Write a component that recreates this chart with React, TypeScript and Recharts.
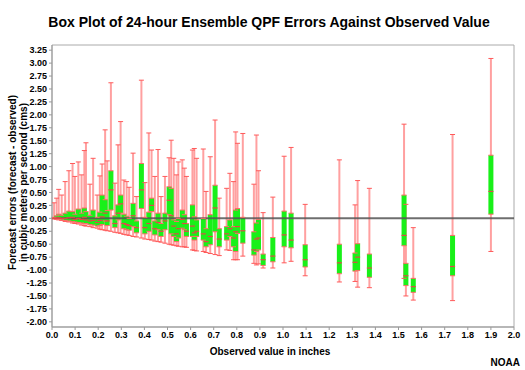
import React from 'react';
import { ComposedChart, Scatter, XAxis, YAxis, ErrorBar, ReferenceLine, ReferenceArea } from 'recharts';

// Observed value (inches) for each box
const observed = [
  0.009, 0.020, 0.029, 0.042, 0.057, 0.073, 0.089, 0.099, 0.114, 0.128,
  0.140, 0.147, 0.164, 0.178, 0.196, 0.207, 0.217, 0.230, 0.239, 0.255,
  0.272, 0.286, 0.297, 0.311, 0.323, 0.334, 0.351, 0.366, 0.387, 0.402,
  0.419, 0.431, 0.445, 0.459, 0.472, 0.489, 0.507, 0.516, 0.527, 0.539,
  0.547, 0.564, 0.573, 0.582, 0.608, 0.616, 0.626, 0.655, 0.667, 0.685,
  0.706, 0.724, 0.756, 0.770, 0.786, 0.795, 0.803, 0.826, 0.874, 0.885,
  0.894, 0.914, 0.956, 1.005, 1.035, 1.096, 1.244, 1.312, 1.323, 1.374,
  1.524, 1.532, 1.564, 1.734, 1.900,
];
const minimum = [
  -0.01, -0.02, -0.03, -0.04, -0.06, -0.07, -0.09, -0.10, -0.11, -0.13,
  -0.14, -0.15, -0.16, -0.18, -0.19, -0.21, -0.22, -0.23, -0.24, -0.25,
  -0.27, -0.28, -0.29, -0.31, -0.32, -0.33, -0.35, -0.36, -0.38, -0.40,
  -0.41, -0.42, -0.44, -0.45, -0.46, -0.48, -0.50, -0.51, -0.52, -0.53,
  -0.54, -0.55, -0.55, -0.56, -0.61, -0.62, -0.63, -0.64, -0.66, -0.68,
  -0.70, -0.72, -0.61, -0.62, -0.80, -0.80, -0.80, -0.73, -0.87, -0.90,
  -0.88, -0.96, -0.96, -0.86, -0.83, -1.11, -1.23, -1.22, -1.33, -1.34,
  -1.16, -1.50, -1.58, -1.59, -0.64,
];
const quartile1 = [
  -0.005, -0.01, -0.02, -0.03, -0.04, -0.05, -0.06, -0.07, -0.08, -0.09,
  -0.10, -0.10, -0.12, -0.13, -0.15, -0.14, -0.12, -0.05, -0.14, 0.16,
  -0.18, -0.03, 0.10, -0.20, -0.22, -0.23, -0.16, -0.28, 0.19, -0.30,
  -0.25, 0.13, -0.32, -0.22, -0.35, -0.22, 0.07, -0.30, -0.35, -0.45,
  -0.38, -0.19, -0.22, -0.35, -0.35, -0.42, -0.35, -0.42, -0.55, -0.51,
  -0.26, -0.55, -0.42, -0.35, -0.55, -0.64, -0.29, -0.48, -0.71, -0.64,
  -0.61, -0.91, -0.84, -0.55, -0.57, -0.94, -1.07, -1.02, -1.01, -1.14,
  -0.53, -1.30, -1.43, -1.11, 0.08,
];
const median = [
  0.0, 0.0, 0.01, 0.0, 0.0, 0.01, 0.02, -0.02, 0.0, -0.02,
  0.02, -0.03, -0.05, -0.04, -0.08, -0.04, 0.03, 0.10, -0.05, 0.55,
  -0.10, 0.10, 0.28, -0.10, -0.12, -0.14, 0.05, -0.18, 0.55, -0.18,
  -0.10, 0.25, -0.20, -0.08, -0.25, -0.05, 0.35, 0.05, -0.15, -0.30,
  -0.20, -0.02, -0.10, -0.25, -0.15, -0.28, -0.25, -0.30, -0.45, -0.35,
  0.20, -0.40, -0.30, -0.20, -0.38, -0.26, -0.16, -0.24, -0.61, -0.40,
  -0.38, -0.80, -0.73, -0.32, -0.42, -0.80, -0.86, -0.85, -0.75, -0.96,
  -0.33, -1.11, -1.32, -0.93, 0.52,
];
const quartile3 = [
  0.02, 0.05, 0.08, 0.06, 0.10, 0.14, 0.13, 0.08, 0.18, 0.10,
  0.20, 0.13, 0.06, 0.16, 0.02, 0.12, 0.45, 0.36, 0.15, 0.92,
  0.05, 0.26, 0.45, 0.08, 0.04, 0.00, 0.29, -0.05, 1.06, 0.02,
  0.12, 0.39, -0.05, 0.10, -0.10, 0.10, 0.61, 0.58, -0.03, -0.06,
  0.00, 0.16, 0.07, -0.10, 0.26, 0.03, -0.03, 0.00, -0.20, 0.07,
  0.64, -0.20, -0.16, -0.03, -0.16, 0.16, 0.19, 0.02, -0.26, -0.09,
  -0.02, -0.69, -0.37, 0.14, 0.10, -0.51, -0.50, -0.67, -0.49, -0.69,
  0.45, -0.87, -1.16, -0.33, 1.22,
];
const maximum = [
  0.30, 0.39, 0.56, 0.45, 0.71, 0.92, 1.06, 0.81, 1.09, 0.84,
  1.31, 1.46, 0.66, 1.16, 0.45, 0.82, 1.05, 1.71, 1.11, 2.62,
  0.68, 1.42, 1.87, 0.74, 0.71, 0.60, 1.26, 0.42, 2.67, 0.69,
  1.65, 1.32, 0.81, 1.33, 0.42, 0.81, 1.17, 1.51, 1.16, 0.84,
  1.09, 1.13, 0.97, 0.81, 1.32, 1.35, 1.16, 1.34, 0.52, 1.19,
  1.90, 0.39, 0.58, 0.87, 0.71, 1.67, 1.45, 1.64, 0.66, 1.61,
  0.92, 0.11, 0.41, 1.20, 1.37, 0.27, 1.13, 0.26, 0.73, 0.58,
  1.82, 0.27, -0.18, 1.62, 3.09,
];

const xTicks = [0, 0.1, 0.2, 0.3, 0.4, 0.5, 0.6, 0.7, 0.8, 0.9, 1.0, 1.1, 1.2, 1.3, 1.4, 1.5, 1.6, 1.7, 1.8, 1.9, 2.0];
const yTicks = [-2, -1.75, -1.5, -1.25, -1, -0.75, -0.5, -0.25, 0, 0.25, 0.5, 0.75, 1, 1.25, 1.5, 1.75, 2, 2.25, 2.5, 2.75, 3, 3.25];

const data = observed.map((x, i) => ({
  x,
  lo: minimum[i],
  q1: quartile1[i],
  med: median[i],
  q3: quartile3[i],
  hi: maximum[i],
  wErr: [median[i] - minimum[i], maximum[i] - median[i]],
  bErr: [median[i] - quartile1[i], quartile3[i] - median[i]],
}));

const FONT = '"Liberation Sans", Arial, Helvetica, sans-serif';

const emptyShape = () => <g />;
const hLine = (color: string, half: number, w: number) => (p: any) => (
  <line x1={p.cx - half} x2={p.cx + half} y1={p.cy} y2={p.cy} stroke={color} strokeWidth={w} />
);

const tickStyle = { fontSize: 9, fontWeight: 'bold' as const, fill: '#000', fontFamily: FONT };

export default function App() {
  return (
    <div style={{ position: 'absolute', left: 0, top: 0, width: 525, height: 370, background: '#fff', fontFamily: FONT }}>
      <div style={{ position: 'absolute', left: 0, top: 14, width: 538, textAlign: 'center', fontSize: 14, fontWeight: 'bold', color: '#000' }}>
        Box Plot of 24-hour Ensemble QPF Errors Against Observed Value
      </div>
      <ComposedChart width={525} height={370} data={data} margin={{ top: 45, right: 11, left: 0, bottom: 23 }}>
        <XAxis
          dataKey="x"
          type="number"
          domain={[0, 2]}
          ticks={xTicks}
          interval={0}
          tickFormatter={(v: number) => v.toFixed(1)}
          tick={tickStyle}
          tickSize={3}
          stroke="#999"
          height={20}
          allowDataOverflow
        />
        <YAxis
          type="number"
          domain={[-2.1, 3.35]}
          ticks={yTicks}
          interval={0}
          tickFormatter={(v: number) => v.toFixed(2)}
          tick={tickStyle}
          tickSize={3}
          stroke="#999"
          width={52}
          allowDataOverflow
        />
        <ReferenceArea x1={0} x2={2} y1={-2.1} y2={3.35} fill="none" stroke="#aaa" strokeWidth={1} />
        <Scatter dataKey="med" shape={emptyShape} isAnimationActive={false}>
          <ErrorBar dataKey="wErr" direction="y" width={0} strokeWidth={2} stroke="#ffa0a0" isAnimationActive={false} />
        </Scatter>
        <Scatter dataKey="hi" shape={hLine('#ff5a5a', 2.5, 1)} isAnimationActive={false} />
        <Scatter dataKey="lo" shape={hLine('#ff5a5a', 2.5, 1)} isAnimationActive={false} />
        <Scatter dataKey="med" shape={emptyShape} isAnimationActive={false}>
          <ErrorBar dataKey="bErr" direction="y" width={0} strokeWidth={5} stroke="#19f019" isAnimationActive={false} />
        </Scatter>
        <Scatter dataKey="q1" shape={hLine('#ff6a6a', 2.5, 1)} isAnimationActive={false} />
        <Scatter dataKey="q3" shape={hLine('#ff6a6a', 2.5, 1)} isAnimationActive={false} />
        <Scatter dataKey="med" shape={hLine('#e04848', 2.5, 1.2)} isAnimationActive={false} />
        <ReferenceLine y={0} stroke="#555" strokeWidth={2} strokeOpacity={0.85} />
      </ComposedChart>
      <div
        style={{
          position: 'absolute',
          left: -112.5,
          top: 171.5,
          width: 260,
          textAlign: 'center',
          fontSize: 10,
          lineHeight: '10.5px',
          fontWeight: 'bold',
          color: '#000',
          transform: 'rotate(-90deg)',
          transformOrigin: 'center center',
          whiteSpace: 'nowrap',
        }}
      >
        Forecast errors (forecast - observed)
        <br />
        in cubic meters per second (cms)
      </div>
      <div style={{ position: 'absolute', left: 52, width: 436, top: 346, textAlign: 'center', fontSize: 10, fontWeight: 'bold', color: '#000' }}>
        Observed value in inches
      </div>
      <div style={{ position: 'absolute', right: 5, top: 357, fontSize: 10, fontWeight: 'bold', color: '#000' }}>NOAA</div>
    </div>
  );
}
